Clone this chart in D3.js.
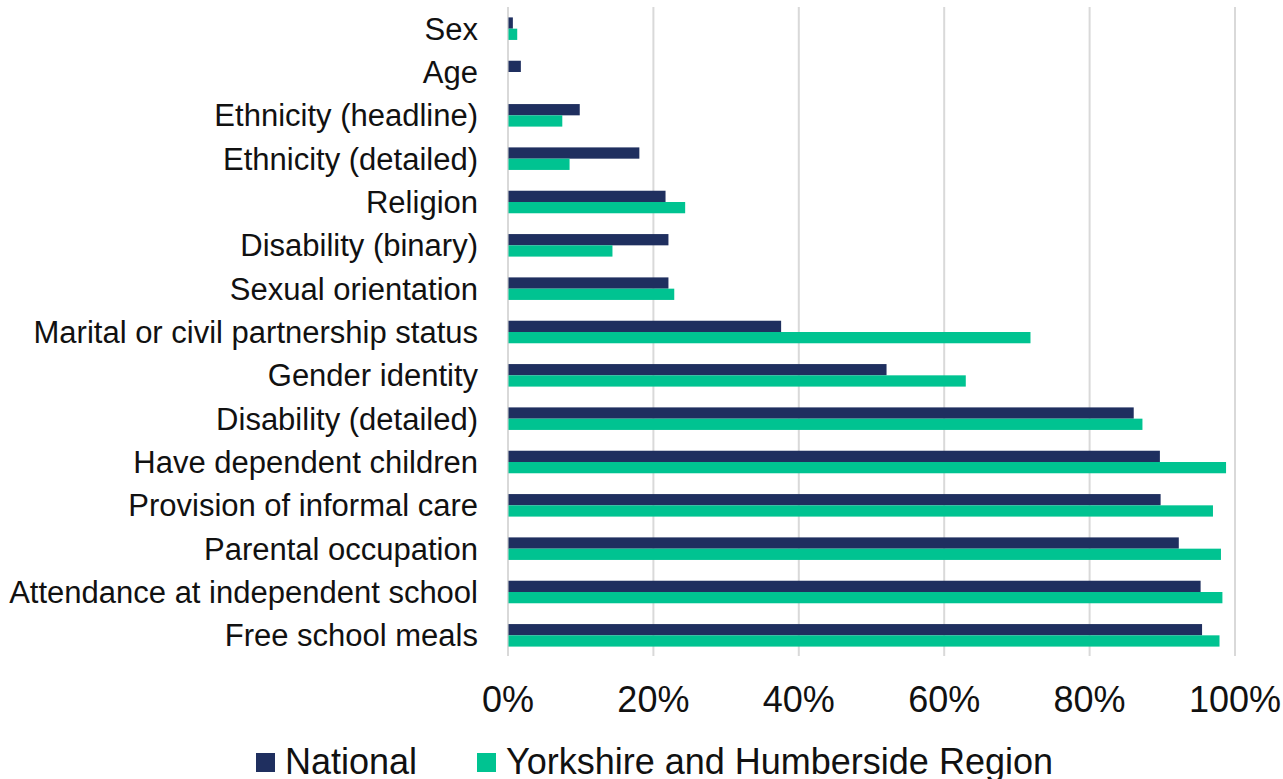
<!DOCTYPE html>
<html>
<head>
<meta charset="utf-8">
<script src="https://cdn.jsdelivr.net/npm/d3@7"></script>
<style>
  html, body { margin: 0; padding: 0; background: #fff; }
  svg { display: block; font-family: "Liberation Sans", Arial, sans-serif; }
</style>
</head>
<body>
<svg id="chart" width="1283" height="779"></svg>
<script>
// Share of records with each characteristic missing, by area
const categories = [
  "Sex",
  "Age",
  "Ethnicity (headline)",
  "Ethnicity (detailed)",
  "Religion",
  "Disability (binary)",
  "Sexual orientation",
  "Marital or civil partnership status",
  "Gender identity",
  "Disability (detailed)",
  "Have dependent children",
  "Provision of informal care",
  "Parental occupation",
  "Attendance at independent school",
  "Free school meals"
];
const nationalValues = [0.6, 1.7, 9.8, 18.0, 21.6, 22.0, 22.0, 37.5, 52.0, 86.0, 89.6, 89.7, 92.2, 95.2, 95.4];
const yorkshireValues = [1.2, 0.0, 7.4, 8.4, 24.3, 14.3, 22.8, 71.8, 62.9, 87.2, 98.7, 96.9, 98.0, 98.2, 97.8];
const seriesNames = ["National", "Yorkshire and Humberside Region"];
const seriesColors = ["#1f2f5f", "#00c391"];
const tickValues = [0, 20, 40, 60, 80, 100];

const svg = d3.select("#chart");
const plot = { left: 508, right: 1235, top: 7, bottom: 657 };

const x = d3.scaleLinear().domain([0, 100]).range([plot.left, plot.right]);
const y = d3.scaleBand()
  .domain(categories)
  .range([plot.top, plot.bottom])
  .paddingInner(0.48)
  .paddingOuter(0.24);
const sub = d3.scaleBand()
  .domain(seriesNames)
  .range([0, y.bandwidth()])
  .padding(0);

// Vertical gridlines (the 0% line doubles as the axis)
svg.append("g")
  .selectAll("line")
  .data(tickValues)
  .join("line")
  .attr("x1", d => x(d))
  .attr("x2", d => x(d))
  .attr("y1", plot.top)
  .attr("y2", plot.bottom - 1)
  .attr("stroke", "#d9d9d9")
  .attr("stroke-width", 2);

// Bars
const rows = categories.map((c, i) => ({
  category: c,
  values: [nationalValues[i], yorkshireValues[i]]
}));

const groups = svg.append("g")
  .selectAll("g")
  .data(rows)
  .join("g")
  .attr("transform", d => `translate(0,${y(d.category)})`);

groups.selectAll("rect")
  .data(d => d.values.map((v, j) => ({ series: seriesNames[j], value: v, j })))
  .join("rect")
  .attr("x", x(0) + 0.5)
  .attr("y", d => sub(d.series))
  .attr("width", d => Math.max(0, x(d.value) - x(0)))
  .attr("height", sub.bandwidth())
  .attr("fill", d => seriesColors[d.j]);

// Category labels
svg.append("g")
  .selectAll("text")
  .data(categories)
  .join("text")
  .attr("x", plot.left - 30)
  .attr("y", d => y(d) + y.bandwidth() / 2)
  .attr("dy", "0.36em")
  .attr("text-anchor", "end")
  .attr("font-size", 31)
  .attr("fill", "#111")
  .text(d => d);

// Percentage axis labels
svg.append("g")
  .selectAll("text")
  .data(tickValues)
  .join("text")
  .attr("x", d => x(d))
  .attr("y", 712)
  .attr("text-anchor", "middle")
  .attr("font-size", 36)
  .attr("fill", "#111")
  .text(d => d3.format("d")(d) + "%");

// Legend
const legendItems = [
  { name: seriesNames[0], color: seriesColors[0], x: 256 },
  { name: seriesNames[1], color: seriesColors[1], x: 477 }
];
const legend = svg.append("g")
  .selectAll("g")
  .data(legendItems)
  .join("g")
  .attr("transform", d => `translate(${d.x},0)`);
legend.append("rect")
  .attr("x", 0)
  .attr("y", 753)
  .attr("width", 19)
  .attr("height", 19)
  .attr("fill", d => d.color);
legend.append("text")
  .attr("x", 29)
  .attr("y", 774)
  .attr("font-size", 36)
  .attr("fill", "#111")
  .text(d => d.name);
</script>
</body>
</html>
